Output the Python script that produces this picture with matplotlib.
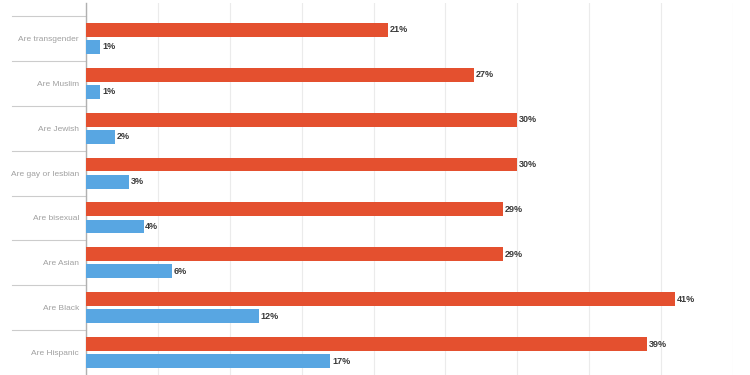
import matplotlib
matplotlib.use("Agg")
import matplotlib.pyplot as plt
import matplotlib.transforms as mtransforms
import numpy as np

categories = ["Are transgender", "Are Muslim", "Are Jewish", "Are gay or lesbian",
              "Are bisexual", "Are Asian", "Are Black", "Are Hispanic"]
orange_vals = [21, 27, 30, 30, 29, 29, 41, 39]
blue_vals = [1, 1, 2, 3, 4, 6, 12, 17]

ORANGE = "#e4502f"
BLUE = "#58a6e2"

plt.rcParams["font.family"] = ["Liberation Sans", "DejaVu Sans"]

fig = plt.figure(figsize=(7.5, 3.75), dpi=100)
ax = fig.add_axes([86/750, 0, (733-86)/750, 372/375])

y = np.arange(len(categories))
h = 0.31
off = 0.19
ax.barh(y - off, orange_vals, height=h, color=ORANGE, zorder=3)
ax.barh(y + off, blue_vals, height=h, color=BLUE, zorder=3)

for yi, v in zip(y, orange_vals):
    ax.text(v + 0.12, yi - off, f"{v}%", va="center", ha="left", fontsize=6.5,
            color="#3a3a3a", fontweight="bold")
for yi, v in zip(y, blue_vals):
    ax.text(v + 0.12, yi + off, f"{v}%", va="center", ha="left", fontsize=6.5,
            color="#3a3a3a", fontweight="bold")

ax.set_xlim(0, 45)
ax.set_ylim(7.5, -0.79)
ax.set_xticks(np.arange(0, 46, 5))
ax.set_xticklabels([])
ax.tick_params(axis="x", length=0)
ax.grid(axis="x", color="#ebebeb", linewidth=0.8, zorder=0)
ax.set_yticks(y)
ax.set_yticklabels(categories, fontsize=6.0, color="#a0a0a0")
ax.tick_params(axis="y", length=0, pad=5)
for s in ["top", "right", "bottom"]:
    ax.spines[s].set_visible(False)
ax.spines["left"].set_color("#b0b0b0")
ax.spines["left"].set_linewidth(1.0)

trans = mtransforms.blended_transform_factory(ax.transAxes, ax.transData)
x0 = (12 - 86) / 647
for b in np.arange(-0.5, 7.0, 1.0):
    ax.plot([x0, 0], [b, b], transform=trans, color="#cccccc", linewidth=0.8,
            clip_on=False)

fig.savefig("out.png", dpi=100)
